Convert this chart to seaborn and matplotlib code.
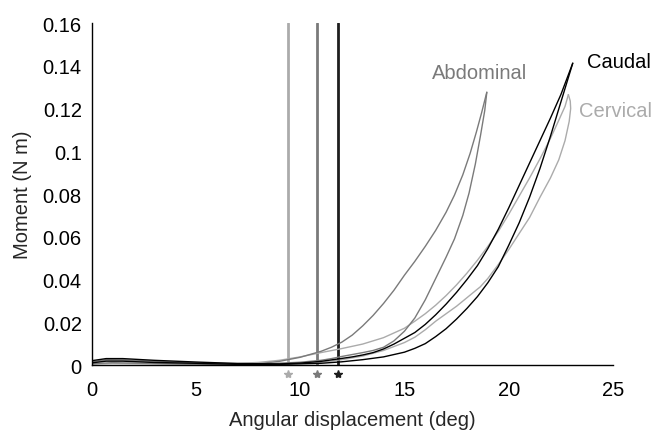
import matplotlib
matplotlib.use("Agg")
import matplotlib.pyplot as plt
import seaborn as sns

# ---------------- data ----------------
# Abdominal loop
abd_load_x = [0, 0.7, 1.5, 3, 5, 7, 8, 9, 10, 11, 11.5, 12, 12.5, 13, 13.5, 14, 14.5, 15, 15.5,
              16, 16.5, 17, 17.4, 17.8, 18.15, 18.45, 18.7, 18.95]
abd_load_y = [0.0015, 0.0025, 0.0024, 0.0018, 0.0010, 0.0005, 0.0006, 0.0017, 0.0036, 0.0064,
              0.0083, 0.0107, 0.014, 0.0183, 0.0232, 0.0288, 0.035, 0.042, 0.0485, 0.0555,
              0.063, 0.0715, 0.0795, 0.089, 0.099, 0.109, 0.118, 0.1276]
abd_unload_x = [18.95, 18.85, 18.65, 18.4, 18.1, 17.8, 17.4, 17, 16.5, 16, 15.5, 15, 14.5, 14,
                13.5, 13, 12.5, 12, 11.5, 11, 10, 8, 6, 4, 2, 1, 0]
abd_unload_y = [0.1276, 0.119, 0.1075, 0.094, 0.0805, 0.070, 0.059, 0.0505, 0.0405, 0.0305,
                0.022, 0.0158, 0.0113, 0.0083, 0.0068, 0.0058, 0.0049, 0.004, 0.003, 0.0022,
                0.0013, 0.0004, 0.0003, 0.0006, 0.0009, 0.0011, 0.0006]

# Caudal loop
cau_load_x = [0, 0.7, 1.5, 3, 5, 7, 9, 10, 11, 11.8, 12.5, 13, 13.5, 14, 14.5, 15, 15.5, 16,
              16.5, 17, 17.5, 18, 18.5, 19, 19.5, 20, 20.5, 21, 21.5, 22, 22.5, 23.07]
cau_load_y = [0.002, 0.003, 0.003, 0.0022, 0.0014, 0.0007, 0.0005, 0.0009, 0.0017, 0.0028,
              0.0038, 0.0047, 0.0058, 0.0075, 0.0098, 0.0125, 0.0152, 0.019, 0.0235, 0.0285,
              0.034, 0.040, 0.0465, 0.0545, 0.0635, 0.0735, 0.084, 0.0945, 0.105, 0.1155,
              0.1265, 0.1412]
cau_unload_x = [23.07, 22.5, 22, 21.5, 21, 20.5, 20, 19.5, 19, 18.5, 18, 17.5, 17, 16.5, 16,
                15.5, 15, 14, 13, 12, 11, 9, 7, 5, 3, 1.5, 0.7, 0]
cau_unload_y = [0.1412, 0.123, 0.107, 0.092, 0.0785, 0.0665, 0.056, 0.046, 0.0385, 0.032,
                0.0265, 0.0215, 0.017, 0.0133, 0.010, 0.0078, 0.006, 0.0038, 0.0025, 0.0015,
                0.0008, 0.0003, 0.0003, 0.0008, 0.0012, 0.0018, 0.0018, 0.001]

# Cervical loop
cer_load_x = [0, 0.7, 1.5, 3, 5, 7, 8, 9, 10, 11, 12, 13, 14, 15, 15.5, 16, 16.5, 17, 17.5, 18,
              18.5, 19, 19.5, 20, 20.5, 21, 21.5, 22, 22.4, 22.7, 22.86]
cer_load_y = [0.0012, 0.0022, 0.0022, 0.0015, 0.0009, 0.0008, 0.0012, 0.0022, 0.0038, 0.0058,
              0.0077, 0.0098, 0.0128, 0.0172, 0.0205, 0.024, 0.028, 0.0325, 0.0375, 0.043,
              0.049, 0.0555, 0.0625, 0.0705, 0.079, 0.0875, 0.0965, 0.106, 0.1145, 0.121, 0.1265]
cer_unload_x = [22.86, 22.95, 22.97, 22.9, 22.7, 22.4, 22, 21.5, 21, 20.5, 20, 19.75, 19.5, 19,
                18.63, 18.5, 18, 17.5, 17, 16.5, 16, 15.5, 15, 14, 13, 12, 11, 10, 8, 6, 4, 2, 1, 0]
cer_unload_y = [0.1265, 0.1235, 0.120, 0.114, 0.105, 0.096, 0.0875, 0.0785, 0.069, 0.0615,
                0.054, 0.0505, 0.047, 0.0405, 0.0365, 0.0355, 0.0315, 0.0275, 0.024, 0.0205,
                0.0165, 0.013, 0.0105, 0.0068, 0.0042, 0.0025, 0.0013, 0.0007, 0.0003, 0.0002,
                0.0004, 0.0006, 0.0007, 0.0004]

regions = ["Cervical", "Abdominal", "Caudal"]
marker_x = [9.4, 10.81, 11.8]          # vertical markers (deg)
label_x = [23.37, 16.32, 23.74]
label_y = [0.1191, 0.137, 0.1418]

x_ticks = [0, 5, 10, 15, 20, 25]
y_ticks = [0, 0.02, 0.04, 0.06, 0.08, 0.10, 0.12, 0.14, 0.16]
y_tick_labels = ["0", "0.02", "0.04", "0.06", "0.08", "0.1", "0.12", "0.14", "0.16"]

# ---------------- style ----------------
sns.set_style("white")
plt.rcParams["font.family"] = ["Liberation Sans", "DejaVu Sans"]
colors = {"Cervical": "#ababab", "Abdominal": "#7a7a7a", "Caudal": "#000000"}
vcolors = {"Cervical": "#ababab", "Abdominal": "#7a7a7a", "Caudal": "#1e1e1e"}

fig = plt.figure(figsize=(6.55, 4.35), dpi=100)
ax = fig.add_axes([0.1397, 0.1586, 0.7962, 0.7862])

curves = {
    "Cervical": [(cer_load_x, cer_load_y), (cer_unload_x, cer_unload_y)],
    "Abdominal": [(abd_load_x, abd_load_y), (abd_unload_x, abd_unload_y)],
    "Caudal": [(cau_load_x, cau_load_y), (cau_unload_x, cau_unload_y)],
}

# vertical lines
for r, mx in zip(regions, marker_x):
    sns.lineplot(x=[mx, mx], y=[0, 0.16], color=vcolors[r], lw=2.0, ax=ax,
                 sort=False, estimator=None)

for r in regions:
    for xs, ys in curves[r]:
        sns.lineplot(x=xs, y=ys, color=colors[r], lw=1.0, ax=ax, sort=False,
                     estimator=None, solid_joinstyle="round")

# asterisks below the axis
for r, mx in zip(regions, marker_x):
    ax.plot([mx], [-0.0042], marker="*", markersize=6, color=vcolors[r],
            linestyle="none", clip_on=False)

# region labels
for r, lx, ly in zip(regions, label_x, label_y):
    ax.text(lx, ly, r, color=colors[r], fontsize=14.5, ha="left", va="center")

ax.set_xlim(0, 25)
ax.set_ylim(0, 0.16)
ax.set_xticks(x_ticks)
ax.set_xticklabels([str(t) for t in x_ticks])
ax.set_yticks(y_ticks)
ax.set_yticklabels(y_tick_labels)
ax.tick_params(direction="in", length=5, width=1, colors="black", labelsize=14.5)
ax.tick_params(axis="x", pad=11)
ax.tick_params(axis="y", pad=7)
ax.set_xlabel("Angular displacement (deg)", fontsize=14.5, labelpad=8)
ax.set_ylabel("Moment (N m)", fontsize=14.5, labelpad=8)

sns.despine(ax=ax)
for s in ["left", "bottom"]:
    ax.spines[s].set_color("black")
    ax.spines[s].set_linewidth(1.0)

fig.savefig("out.png", dpi=100)
